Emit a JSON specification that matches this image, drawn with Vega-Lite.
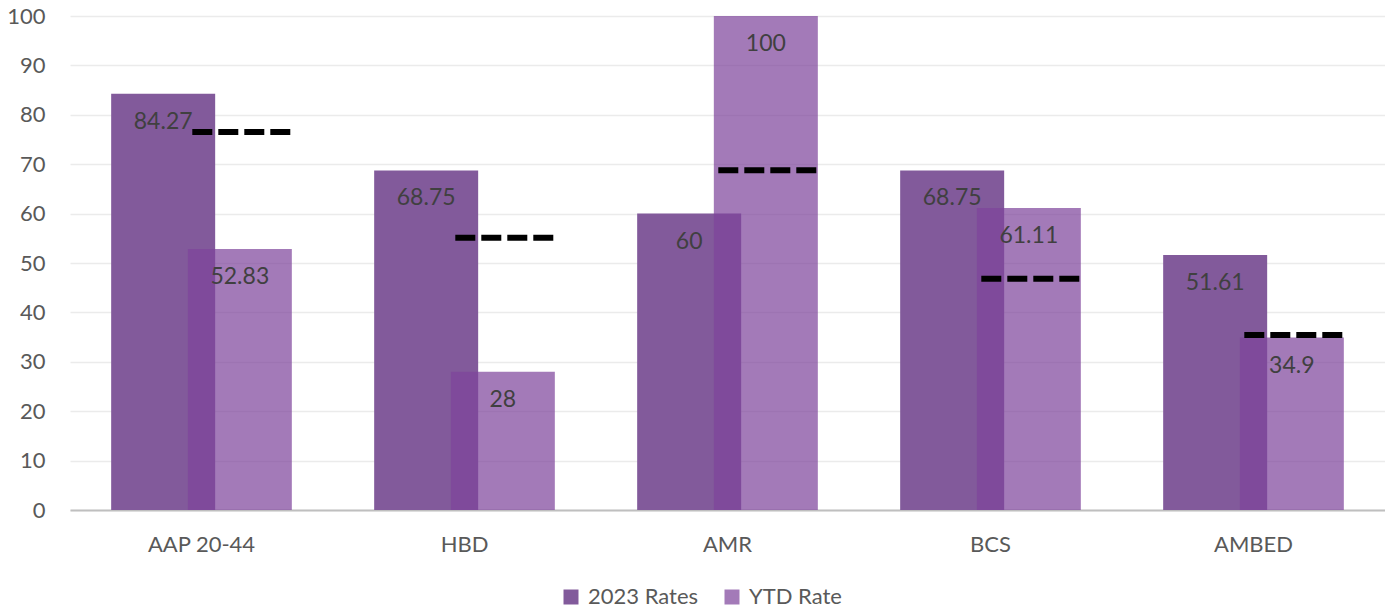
{
  "$schema": "https://vega.github.io/schema/vega-lite/v6.json",
  "autosize": "none",
  "width": 1315,
  "height": 494,
  "padding": {"left": 70, "top": 16, "right": 0, "bottom": 103},
  "background": "white",
  "config": {
    "view": {"stroke": null},
    "font": "Lato",
    "axis": {"labelFont": "Lato", "labelColor": "#595959", "labelFontSize": 22, "ticks": false, "title": null},
    "legend": {"labelFont": "Lato", "labelColor": "#595959", "labelFontSize": 22}
  },
  "datasets": {
    "bars": [
      {"cat": "AAP 20-44", "series": "2023 Rates", "value": 84.27},
      {"cat": "HBD", "series": "2023 Rates", "value": 68.75},
      {"cat": "AMR", "series": "2023 Rates", "value": 60},
      {"cat": "BCS", "series": "2023 Rates", "value": 68.75},
      {"cat": "AMBED", "series": "2023 Rates", "value": 51.61},
      {"cat": "AAP 20-44", "series": "YTD Rate", "value": 52.83},
      {"cat": "HBD", "series": "YTD Rate", "value": 28},
      {"cat": "AMR", "series": "YTD Rate", "value": 100},
      {"cat": "BCS", "series": "YTD Rate", "value": 61.11},
      {"cat": "AMBED", "series": "YTD Rate", "value": 34.9}
    ],
    "targets": [
      {"cat": "AAP 20-44", "target": 76.5},
      {"cat": "HBD", "target": 55.1},
      {"cat": "AMR", "target": 68.8},
      {"cat": "BCS", "target": 46.8},
      {"cat": "AMBED", "target": 35.4}
    ]
  },
  "layer": [
    {
      "data": {"name": "bars"},
      "mark": {"type": "bar", "width": 104},
      "encoding": {
        "x": {
          "field": "cat", "type": "nominal", "sort": null,
          "scale": {"paddingInner": 0.417, "paddingOuter": 0.2085},
          "axis": {"labelAngle": 0, "labelPadding": 24, "domainColor": "#BFBFBF", "domainWidth": 2, "grid": false}
        },
        "xOffset": {"field": "series", "type": "nominal", "sort": null, "scale": {"paddingInner": 0, "paddingOuter": 0}},
        "y": {
          "field": "value", "type": "quantitative",
          "scale": {"domain": [0, 100], "nice": false},
          "axis": {"values": [0,10,20,30,40,50,60,70,80,90,100], "labelOverlap": false, "domain": false, "gridColor": "#EBEBEB", "gridWidth": 1.5, "labelPadding": 25}
        },
        "color": {
          "field": "series", "type": "nominal", "sort": null,
          "scale": {"domain": ["2023 Rates", "YTD Rate"], "range": ["#825A9B", "#7D449B"]},
          "legend": {"orient": "none", "legendX": 490, "legendY": 570, "direction": "horizontal", "title": null, "symbolType": "square", "symbolSize": 225, "symbolStrokeWidth": 0, "columnPadding": 22, "labelOffset": 6}
        },
        "opacity": {
          "field": "series", "type": "nominal", "sort": null,
          "scale": {"domain": ["2023 Rates", "YTD Rate"], "range": [1, 0.71]},
          "legend": null
        }
      }
    },
    {
      "data": {"name": "bars"},
      "mark": {"type": "text", "baseline": "middle", "dy": 28, "fontSize": 23, "color": "#404040", "font": "Lato"},
      "encoding": {
        "x": {"field": "cat", "type": "nominal", "sort": null},
        "xOffset": {"field": "series", "type": "nominal", "sort": null},
        "y": {"field": "value", "type": "quantitative"},
        "text": {"field": "value", "type": "quantitative", "format": ".4~f"}
      }
    },
    {
      "data": {"name": "targets"},
      "mark": {"type": "rule", "color": "black", "strokeWidth": 6, "strokeDash": [20, 6]},
      "encoding": {
        "x": {"field": "cat", "type": "nominal", "sort": null, "bandPosition": 0.44},
        "x2": {"field": "cat", "bandPosition": 1.1},
        "y": {"field": "target", "type": "quantitative"}
      }
    }
  ]
}
